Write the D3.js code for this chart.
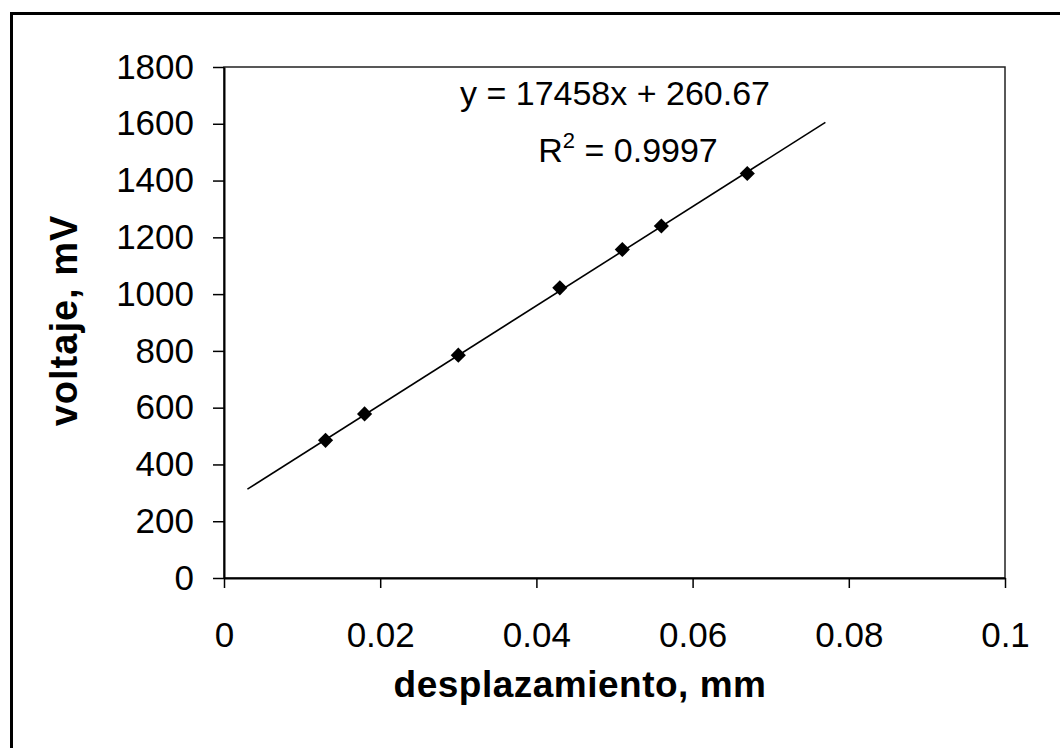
<!DOCTYPE html>
<html>
<head>
<meta charset="utf-8">
<script src="https://cdn.jsdelivr.net/npm/d3@7"></script>
<style>
  body { margin: 0; background: #fff; }
  text { font-family: "Liberation Sans", Arial, sans-serif; fill: #000; }
</style>
</head>
<body>
<div id="chart"></div>
<script>
// Data
var desplazamiento = [0.013, 0.018, 0.030, 0.043, 0.051, 0.056, 0.067];
var voltaje = [485, 578, 785, 1022, 1157, 1240, 1425];

var xTicks = [0, 0.02, 0.04, 0.06, 0.08, 0.1];
var xTickLabels = ["0", "0.02", "0.04", "0.06", "0.08", "0.1"];
var yTicks = [0, 200, 400, 600, 800, 1000, 1200, 1400, 1600, 1800];

// linear trendline (Excel style, forecast 0.01 each way)
var slope = 17458;
var intercept = 260.67;
var trendRange = [0.003, 0.077];
var eqText = "y = 17458x + 260.67";
var r2Text = "0.9997";

// SVG window
var svgWidth = 1060;
var svgHeight = 748;

var margin = {
    top: 67,
    right: 55,
    bottom: 170,
    left: 224
};

var width = svgWidth - margin.left - margin.right;
var height = svgHeight - margin.top - margin.bottom;

var svg = d3.select("#chart")
  .append("svg")
  .attr("width", svgWidth)
  .attr("height", svgHeight);

// outer chart border (only top and left visible in the scan)
svg.append("rect")
  .attr("x", 11.5)
  .attr("y", 13.5)
  .attr("width", 1100)
  .attr("height", 800)
  .attr("fill", "none")
  .attr("stroke", "#000")
  .attr("stroke-width", 3);

var chartGroup = svg.append("g")
  .attr("transform", `translate(${margin.left}, ${margin.top})`);

// scales
var xLinearScale = d3.scaleLinear()
  .domain([0, 0.1])
  .range([0, width]);

var yLinearScale = d3.scaleLinear()
  .domain([0, 1800])
  .range([height, 0]);

// plot area frame
chartGroup.append("rect")
  .attr("x", 0)
  .attr("y", 0)
  .attr("width", width)
  .attr("height", height)
  .attr("fill", "none")
  .attr("stroke", "#222")
  .attr("stroke-width", 1.5);

// axes
var bottomAxis = d3.axisBottom(xLinearScale)
  .tickValues(xTicks)
  .tickFormat((d, i) => xTickLabels[i])
  .tickSize(10)
  .tickSizeOuter(0)
  .tickPadding(34);

var leftAxis = d3.axisLeft(yLinearScale)
  .tickValues(yTicks)
  .tickFormat(d3.format("d"))
  .tickSize(11)
  .tickSizeOuter(0)
  .tickPadding(19);

var xAxis = chartGroup.append("g")
  .attr("transform", `translate(0, ${height})`)
  .call(bottomAxis);

var yAxis = chartGroup.append("g")
  .call(leftAxis);

[xAxis, yAxis].forEach(ax => {
  ax.select(".domain").attr("stroke", "#000").attr("stroke-width", 2);
  ax.selectAll(".tick line").attr("stroke", "#000").attr("stroke-width", 1.5);
  ax.selectAll(".tick text")
    .attr("font-size", 35)
    .attr("font-family", "'Liberation Sans', Arial, sans-serif")
    .attr("fill", "#000");
});

// trendline
var trendLine = d3.line()
  .x(d => xLinearScale(d))
  .y(d => yLinearScale(slope * d + intercept));

chartGroup.append("path")
  .datum(trendRange)
  .attr("d", trendLine)
  .attr("fill", "none")
  .attr("stroke", "#000")
  .attr("stroke-width", 1.6);

// diamond markers
var diamond = d3.symbol().type(d3.symbolSquare).size(115);

chartGroup.selectAll(".pt")
  .data(desplazamiento)
  .enter()
  .append("path")
  .attr("class", "pt")
  .attr("d", diamond)
  .attr("transform", (d, i) => `translate(${xLinearScale(d)}, ${yLinearScale(voltaje[i])}) rotate(45)`)
  .attr("fill", "#000");

// equation labels
chartGroup.append("text")
  .attr("x", 391)
  .attr("y", 38)
  .attr("text-anchor", "middle")
  .attr("font-size", 34)
  .text(eqText);

var r2 = chartGroup.append("text")
  .attr("x", 404)
  .attr("y", 95)
  .attr("text-anchor", "middle")
  .attr("font-size", 34);
r2.append("tspan").text("R");
r2.append("tspan").attr("dy", -14).attr("font-size", 22).text("2");
r2.append("tspan").attr("dy", 14).text(" = " + r2Text);

// axis titles
chartGroup.append("text")
  .attr("x", 356)
  .attr("y", height + 119)
  .attr("text-anchor", "middle")
  .attr("font-size", 37)
  .attr("font-weight", "bold")
  .attr("letter-spacing", 0.5)
  .text("desplazamiento, mm");

chartGroup.append("text")
  .attr("transform", "rotate(-90)")
  .attr("x", -(height / 2) + 2)
  .attr("y", -147)
  .attr("text-anchor", "middle")
  .attr("font-size", 38)
  .attr("font-weight", "bold")
  .attr("letter-spacing", 1)
  .text("voltaje, mV");
</script>
</body>
</html>
